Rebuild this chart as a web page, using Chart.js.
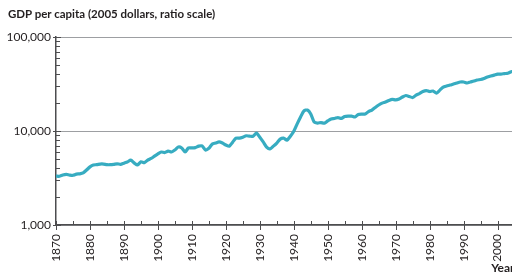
<!DOCTYPE html>
<html>
<head>
<meta charset="utf-8">
<script src="https://cdn.jsdelivr.net/npm/chart.js@4"></script>
<style>
  body { margin: 0; background: #fff; }
  #wrap { position: relative; width: 512px; height: 275px; overflow: hidden; }
  #title {
    position: absolute; left: 8px; top: 7px;
    font: bold 11.5px Lato, sans-serif; color: #231f20;
  }
</style>
</head>
<body>
<div id="wrap">
  <div id="title">GDP per capita (2005 dollars, ratio scale)</div>
  <canvas id="gdp-chart" width="521" height="275"></canvas>
</div>
<script>
// ── DATA ─────────────────────────────────────────────────────

const years = [
  1870, 1871, 1872, 1873, 1874, 1875, 1876, 1877, 1878, 1879,
  1880, 1881, 1882, 1883, 1884, 1885, 1886, 1887, 1888, 1889,
  1890, 1891, 1892, 1893, 1894, 1895, 1896, 1897, 1898, 1899,
  1900, 1901, 1902, 1903, 1904, 1905, 1906, 1907, 1908, 1909,
  1910, 1911, 1912, 1913, 1914, 1915, 1916, 1917, 1918, 1919,
  1920, 1921, 1922, 1923, 1924, 1925, 1926, 1927, 1928, 1929,
  1930, 1931, 1932, 1933, 1934, 1935, 1936, 1937, 1938, 1939,
  1940, 1941, 1942, 1943, 1944, 1945, 1946, 1947, 1948, 1949,
  1950, 1951, 1952, 1953, 1954, 1955, 1956, 1957, 1958, 1959,
  1960, 1961, 1962, 1963, 1964, 1965, 1966, 1967, 1968, 1969,
  1970, 1971, 1972, 1973, 1974, 1975, 1976, 1977, 1978, 1979,
  1980, 1981, 1982, 1983, 1984, 1985, 1986, 1987, 1988, 1989,
  1990, 1991, 1992, 1993, 1994, 1995, 1996, 1997, 1998, 1999,
  2000, 2001, 2002, 2003, 2004, 2005,
];

const gdpPerCapita = [
  3320, 3300, 3400, 3450, 3400, 3380, 3480, 3500, 3580, 3850,
  4150, 4350, 4380, 4450, 4450, 4380, 4380, 4420, 4480, 4420,
  4550, 4680, 4900, 4580, 4350, 4700, 4600, 4900, 5100, 5400,
  5700, 5980, 5900, 6100, 5980, 6280, 6750, 6600, 5980, 6600,
  6600, 6650, 6900, 6950, 6280, 6550, 7250, 7450, 7650, 7450,
  7100, 6900, 7600, 8400, 8400, 8600, 8900, 8800, 8800, 9500,
  8600, 7650, 6750, 6450, 6900, 7450, 8200, 8400, 8000, 8800,
  9950, 11900, 14100, 16350, 16700, 15150, 12450, 12150, 12300, 12100,
  12800, 13450, 13600, 13900, 13600, 14250, 14400, 14400, 14100, 15000,
  15150, 15150, 16100, 16700, 17800, 18900, 19800, 20350, 21150, 21700,
  21400, 21900, 23000, 23850, 23300, 22700, 24100, 25000, 26300, 26900,
  26300, 26600, 25300, 27200, 29300, 30100, 30800, 31600, 32400, 33200,
  33200, 32400, 33200, 34000, 34900, 35300, 36200, 37500, 38400, 39300,
  40300, 40300, 40800, 41200, 42700, 43200,
];

const yTickValues = [1000, 10000, 100000];

// ── AXIS TICK MARKS ──────────────────────────────────────────

const tickMarks = {
  id: 'tickMarks',
  afterDraw(chart) {
    const { ctx, chartArea, scales: { x, y } } = chart;
    ctx.save();
    ctx.strokeStyle = '#4d4d4f';
    ctx.lineWidth = 1;
    ctx.beginPath();
    // y: minor ticks inside, major ticks crossing
    for (const d of [1000, 10000]) {
      for (let m = 2; m <= 9; m++) {
        const py = Math.round(y.getPixelForValue(m * d)) + 0.5;
        ctx.moveTo(chartArea.left, py);
        ctx.lineTo(chartArea.left + 4, py);
      }
    }
    yTickValues.forEach(v => {
      const py = Math.round(y.getPixelForValue(v)) + 0.5;
      ctx.moveTo(chartArea.left - 3, py);
      ctx.lineTo(chartArea.left + 5, py);
    });
    // x: 5-year minor ticks above, decade ticks crossing
    for (let yr = 1870; yr <= 2005; yr += 5) {
      const px = Math.round(x.getPixelForValue(yr)) + 0.5;
      if (px > chartArea.right) continue;
      const major = yr % 10 === 0;
      ctx.moveTo(px, chartArea.bottom - 4);
      ctx.lineTo(px, chartArea.bottom + (major ? 5 : 0));
    }
    ctx.stroke();
    ctx.restore();
  },
};

// ── CHART ────────────────────────────────────────────────────

new Chart(document.getElementById('gdp-chart'), {
  type: 'line',
  data: {
    datasets: [{
      data: years.map((yr, i) => ({ x: yr, y: gdpPerCapita[i] })),
      borderColor: '#37acc1',
      borderWidth: 3.2,
      pointRadius: 0,
      tension: 0.25,
      fill: false,
    }],
  },
  options: {
    responsive: false,
    animation: false,
    layout: { padding: { top: 37, right: 0, left: 0, bottom: 0 } },
    plugins: { legend: { display: false }, tooltip: { enabled: false } },
    scales: {
      x: {
        type: 'linear',
        min: 1870,
        max: 2005,
        afterBuildTicks: (s) => { s.ticks = s.ticks.filter(t => t.value % 10 === 0); },
        afterFit: (s) => { s.height = 50; },
        grid: { display: false, drawTicks: false },
        border: { display: true, color: '#4d4d4f', width: 1.5 },
        ticks: {
          stepSize: 10,
          minRotation: 90,
          maxRotation: 90,
          padding: 9,
          color: '#231f20',
          font: { family: 'Lato', size: 12 },
          callback: (v) => String(v),
        },
        title: {
          display: true,
          text: 'Year',
          align: 'end',
          color: '#231f20',
          font: { family: 'Lato', size: 12, weight: 'bold' },
          padding: { top: 0, bottom: 0 },
        },
      },
      y: {
        type: 'logarithmic',
        min: 1000,
        max: 100000,
        afterBuildTicks: (s) => { s.ticks = yTickValues.map(v => ({ value: v })); },
        afterFit: (s) => { s.width = 56; },
        grid: {
          drawTicks: false,
          color: '#9d9fa2',
          lineWidth: 1,
        },
        border: { display: true, color: '#4d4d4f', width: 1.5 },
        ticks: {
          padding: 5,
          color: '#231f20',
          font: { family: 'Lato', size: 12 },
          callback: (v) => v.toLocaleString('en-US'),
        },
      },
    },
  },
  plugins: [tickMarks],
});
</script>
</body>
</html>
